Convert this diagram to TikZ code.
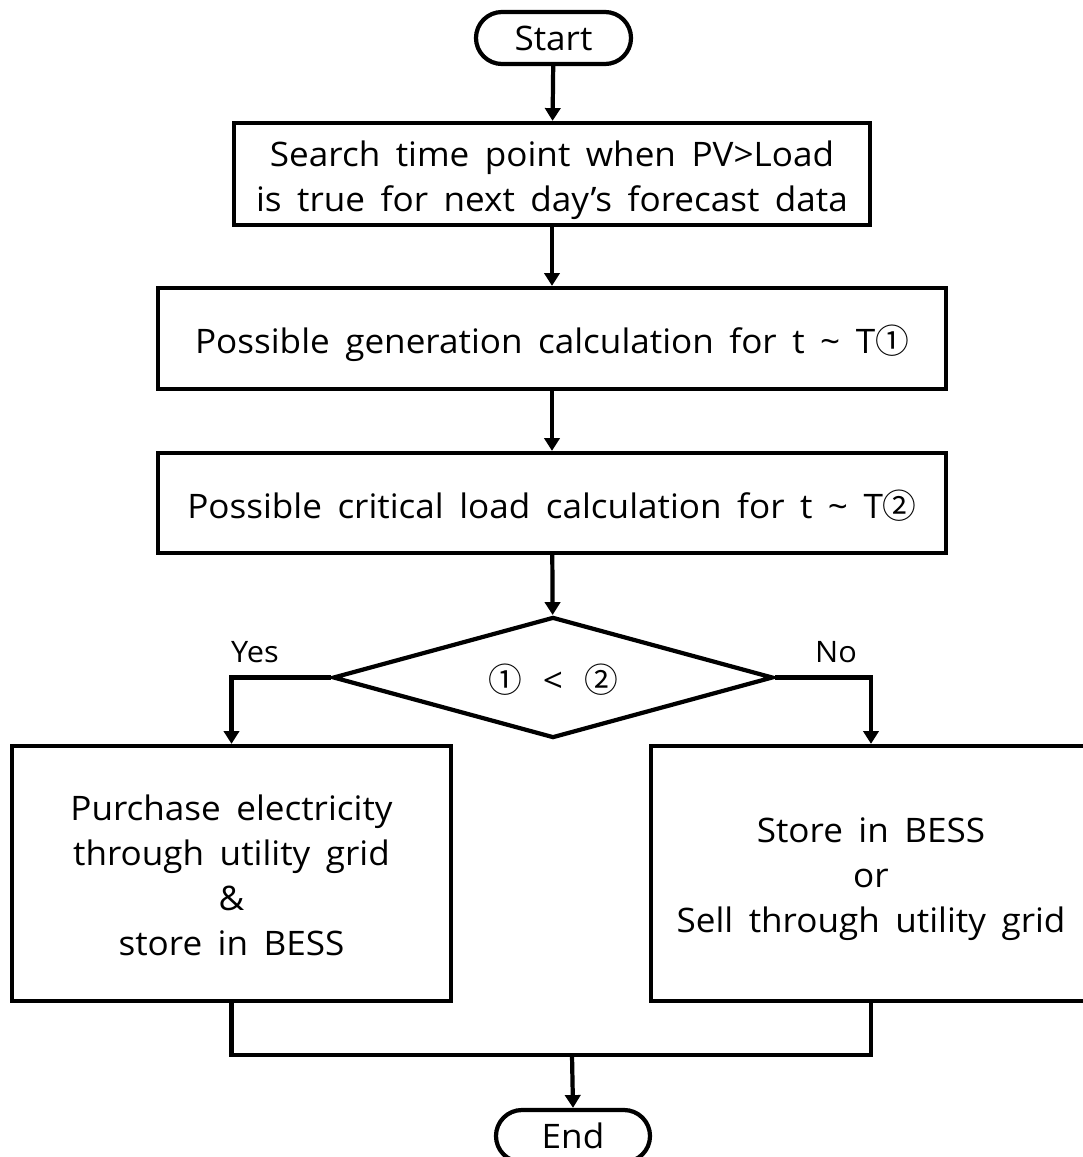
\documentclass[tikz,border=0pt]{standalone}
\usepackage{fontspec}
\setmainfont{Open Sans}[WordSpace=1.7, FakeStretch=1.04]
\newfontfamily\symfont{Noto Sans CJK KR}
\usetikzlibrary{arrows.meta,shapes.geometric,shapes.misc}
\newcommand{\cnum}[1]{{\symfont #1}}
% a taller first line lowers the text block inside its frame
\newcommand{\padtop}[1]{\rule{0pt}{#1}}
\begin{document}
\begin{tikzpicture}[x=0.025cm,y=-0.025cm,
  every node/.style={font=\fontsize{24}{32}\selectfont, align=center, inner sep=0pt},
  line/.style={line width=3pt, line join=miter},
  flow/.style={line, -{Triangle[length=0.32cm,width=0.38cm]}},
  procbox/.style={draw, line, rectangle},
  termbox/.style={draw, line, rounded rectangle},
  decision/.style={draw, line, diamond, aspect=3.6, minimum width=11cm, minimum height=3.025cm},
  branchlabel/.style={font=\fontsize{21}{26}\selectfont}
]
\useasboundingbox (0,0) rectangle (1083,1157);
\clip (0,0) rectangle (1083,1157);

\node[termbox, minimum width=3.875cm, minimum height=1.3cm] (start) at (553.5,38) {Start};
\node[procbox, minimum width=15.9cm, minimum height=2.55cm] (search) at (552,174)
  {\padtop{26.6pt}Search time point when PV>Load\\is true for next day’s forecast data};
\node[procbox, minimum width=19.7cm, minimum height=2.525cm] (gen) at (552,338.5)
  {\padtop{26.7pt}Possible generation calculation for t \textasciitilde{} T\cnum{①}};
\node[procbox, minimum width=19.7cm, minimum height=2.5cm] (crit) at (552,503)
  {\padtop{24pt}Possible critical load calculation for t \textasciitilde{} T\cnum{②}};
\node[decision] (cmp) at (553,677.5) {\padtop{23.7pt}\cnum{①} \,<\, \cnum{②}};
\node[procbox, minimum width=10.975cm, minimum height=6.375cm] (buy) at (231.5,873.5)
  {\padtop{21pt}Purchase electricity\\through utility grid\\\&\\store in BESS};
\node[procbox, minimum width=11cm, minimum height=6.375cm] (sell) at (871,873.5)
  {\padtop{26pt}Store in BESS\\or\\Sell through utility grid};
\node[termbox, minimum width=3.85cm, minimum height=1.3cm] (stop) at (573,1136) {End};

\node[branchlabel] (yes) at (255,652) {Yes};
\node[branchlabel] (no) at (836,652) {No};

\coordinate (join) at (572,1055);

\draw[flow] (start) -- (search);
\draw[flow] (search) -- (gen);
\draw[flow] (gen) -- (crit);
\draw[flow] (crit) -- (cmp);
\draw[flow] (cmp.west) -| (buy.north);
\draw[flow] (cmp.east) -| (sell.north);
\draw[line] (buy.south) |- (join) -| (sell.south);
\draw[flow] (join) -- (stop.north);
\end{tikzpicture}
\end{document}
